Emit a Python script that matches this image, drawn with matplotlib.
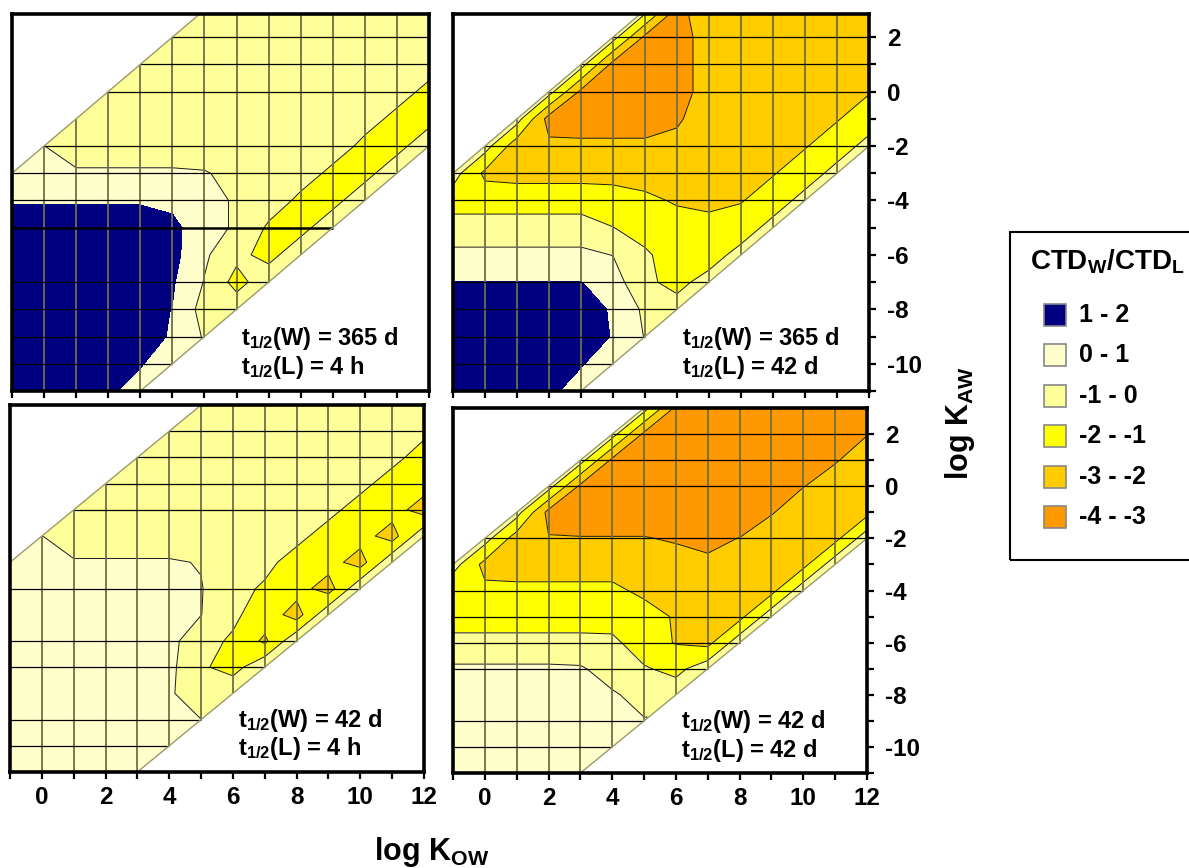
import numpy as np
import matplotlib
matplotlib.use('Agg')
import matplotlib.pyplot as plt
from matplotlib.patches import Polygon, Rectangle

plt.rcParams['font.family'] = ['Liberation Sans', 'DejaVu Sans']
plt.rcParams['font.weight'] = 'bold'
plt.rcParams['mathtext.fontset'] = 'custom'
plt.rcParams['mathtext.rm'] = 'Liberation Sans:bold'
plt.rcParams['mathtext.it'] = 'Liberation Sans:bold'
plt.rcParams['mathtext.bf'] = 'Liberation Sans:bold'
plt.rcParams['axes.unicode_minus'] = False

# grid of the contour data: columns log Kow -1..12, rows log Kaw 3..-11
log_kow = np.arange(-1, 13)
log_kaw = np.arange(3, -12, -1)
# chemical space band: koa_min <= log Kow - log Kaw <= koa_max
koa_min, koa_max = 2, 14

levels = [-4, -3, -2, -1, 0, 1, 2]
level_colors = ['#FF9900', '#FFCC00', '#FFFF00', '#FFFF99', '#FFFFCC', '#000080']
legend_title = 'CTD$_W$/CTD$_L$'
legend_labels = ['1 - 2', '0 - 1', '-1 - 0', '-2 - -1', '-3 - -2', '-4 - -3']

# t1/2(W) = 365 d, t1/2(L) = 4 h
z_365d_4h = [
    [-0.5] * 14,
    [-0.5] * 14,
    [-0.5] * 13 + [-0.7],
    [-0.5] * 12 + [-0.7, -1.2],
    [-0.5] * 11 + [-0.7, -1.2, -1.3],
    [-0.3, 0.02, -0.8, -0.8, -0.8, -0.8, -0.8, -0.5, -0.5, -0.5, -0.6, -1.2, -1.3, -0.4],
    [0.15, 0.2, 0.2, 0.2, 0.2, 0.2, 0.1, -0.4, -0.5, -0.6, -1.2, -1.3, -0.4, -0.4],
    [0.9] * 5 + [0.7, 0.3, -0.1, -0.5, -1.2, -1.3, -0.4, -0.4, -0.4],
    [1.5] * 5 + [1.3, 0.3, -0.1, -1.15, -1.3, -0.4, -0.4, -0.4, -0.4],
    [1.5] * 5 + [1.3, 0.15, -0.75, -1.3, -0.4, -0.4, -0.4, -0.4, -0.4],
    [1.5] * 5 + [1.1, -0.05, -1.35, -0.4, -0.4, -0.4, -0.4, -0.4, -0.4],
    [1.5] * 4 + [1.3, 0.98, -0.4, -0.4, -0.4, -0.4, -0.4, -0.4, -0.4, -0.4],
    [1.5] * 4 + [1.4, 0.9, -0.1] + [-0.1] * 7,
    [1.5] * 4 + [1.1, 0.2] + [0.2] * 8,
    [1.5] * 3 + [1.2, 0.5] + [0.5] * 9,
]

# t1/2(W) = 365 d, t1/2(L) = 42 d
z_365d_42d = [
    [-0.6] * 7 + [-3.2] + [-2.6] * 6,
    [-0.6] * 6 + [-3.2, -3.4] + [-2.6] * 6,
    [-0.6] * 5 + [-3.3, -3.5, -3.4] + [-2.6] * 6,
    [-0.6] * 4 + [-3.2, -3.5, -3.5, -3.4] + [-2.6] * 5 + [-2.05],
    [-0.6] * 3 + [-3.4, -3.5, -3.5, -3.5, -3.1, -2.6, -2.5, -2.5, -2.5, -2.05, -1.6],
    [-0.6, -0.6, -2.6, -2.8, -2.8, -2.8, -2.8, -2.8, -2.6, -2.5, -2.4, -2.05, -1.6, -0.6],
    [-0.6, -2.2, -2.3, -2.3, -2.3, -2.3, -2.4, -2.6, -2.6, -2.5, -2.05, -1.6, -0.6, -0.6],
    [-1.5] * 5 + [-1.6, -1.8, -2.1, -2.3, -2.05, -1.6, -0.6, -0.6, -0.6],
    [-0.5] * 5 + [-0.98, -1.4, -1.6, -1.6, -1.6, -0.6, -0.6, -0.6, -0.6],
    [0.2] * 5 + [-0.02, -0.85, -1.5, -1.5, -0.6, -0.6, -0.6, -0.6, -0.6],
    [1.03] * 4 + [1.02, 0.45, -0.8, -1.3, -0.6, -0.6, -0.6, -0.6, -0.6, -0.6],
    [1.5] * 4 + [1.4, 0.9, -0.2, -0.6, -0.6, -0.6, -0.6, -0.6, -0.6, -0.6],
    [1.5] * 4 + [1.45, 0.95, -0.05] + [-0.05] * 7,
    [1.5] * 4 + [1.05, 0.6] + [0.6] * 8,
    [1.5] * 3 + [1.15, 0.7] + [0.7] * 9,
]

# t1/2(W) = 42 d, t1/2(L) = 4 h
z_42d_4h = [
    [-0.5] * 13 + [-0.6],
    [-0.5] * 13 + [-0.85],
    [-0.5] * 12 + [-0.8, -1.3],
    [-0.5] * 11 + [-0.8, -1.3, -1.6],
    [-0.5] * 10 + [-0.8, -1.3, -1.6, -2.45],
    [0.02, 0.02] + [-0.6] * 7 + [-0.8, -1.3, -1.6, -2.45, -0.2],
    [0.2, 0.1, 0.1, 0.1, 0.1, 0.1, -0.05, -0.5, -0.8, -1.3, -1.6, -2.45, -0.2, -0.2],
    [0.3] * 6 + [0.05, -0.75, -1.1, -1.6, -2.45, -0.2, -0.2, -0.2],
    [0.3] * 6 + [0.02, -0.85, -1.4, -2.45, -0.2, -0.2, -0.2, -0.2],
    [0.3] * 5 + [0.35, -0.75, -1.1, -2.2, -0.2, -0.2, -0.2, -0.2, -0.2],
    [0.3] * 5 + [0.25, -0.85, -1.4, -0.2, -0.2, -0.2, -0.2, -0.2, -0.2],
    [0.3] * 5 + [0.15, -0.7] + [-0.2] * 7,
    [0.3] * 6 + [0.01] * 8,
    [0.3] * 14,
    [0.3] * 14,
]

# t1/2(W) = 42 d, t1/2(L) = 42 d
z_42d_42d = [
    [-0.6] * 7 + [-3.2] + [-3.6] * 6,
    [-0.6] * 6 + [-3.2] + [-3.6] * 6 + [-3.02],
    [-0.6] * 5 + [-3.2] + [-3.6] * 6 + [-3.05, -2.7],
    [-0.6] * 4 + [-3.2] + [-3.6] * 6 + [-3.02, -2.7, -2.6],
    [-0.6] * 3 + [-3.3] + [-3.6] * 6 + [-3.05, -2.6, -2.5, -2.3],
    [-0.6, -0.6, -2.5, -2.95, -2.95, -2.95, -2.95, -3.1, -3.2, -2.98, -2.6, -2.5, -2.3, -0.4],
    [-0.6, -2.3, -2.4, -2.4, -2.4, -2.4, -2.5, -2.6, -2.85, -2.7, -2.5, -2.3, -0.4, -0.4],
    [-1.8] * 6 + [-2.2, -2.4, -2.6, -2.5, -2.3, -0.4, -0.4, -0.4],
    [-1.5] * 6 + [-1.6, -2.1, -2.4, -2.3, -0.4, -0.4, -0.4, -0.4],
    [-0.7] * 5 + [-0.75, -1.6, -2.05, -2.3, -0.4, -0.4, -0.4, -0.4, -0.4],
    [0.15] * 4 + [0.1, -0.4, -0.9, -1.3, -0.4, -0.4, -0.4, -0.4, -0.4, -0.4],
    [0.4] * 5 + [0.1, -0.3] + [-0.4] * 7,
    [0.5] * 5 + [0.35, 0.05] + [0.05] * 7,
    [0.5] * 5 + [0.4] * 9,
    [0.5] * 14,
]

panel_data = [z_365d_4h, z_365d_42d, z_42d_4h, z_42d_42d]
half_life_w = ['365 d', '365 d', '42 d', '42 d']
half_life_l = ['4 h', '42 d', '4 h', '42 d']
grid_kaw = [
    [2, 1, 0, -2, -3, -4, -5, -7, -8, -9, -10],
    [2, 1, 0, -2, -3, -4, -7, -8, -9, -10],
    [2, 1, 0, -1, -4, -6, -7, -9, -10],
    [2, 1, 0, -2, -4, -5, -6, -7, -9, -10],
]
grid_kaw_heavy = [[-5], [], [], []]

W, H = 1189, 868
fig = plt.figure(figsize=(W / 100, H / 100), dpi=100)

# panel boxes in pixels: left, top, right, bottom
boxes = [(12, 14, 429, 391), (453, 14, 869, 391),
         (10, 405, 424, 772), (453, 408, 867, 773)]
xlims = [(-0.87, 12), (-0.87, 12), (-1, 12), (-1, 12)]
ylims = [(-11, 2.85), (-11, 2.85), (-11, 3), (-11, 3)]

for i, z in enumerate(panel_data):
    l, t, r, b = boxes[i]
    ax = fig.add_axes([l / W, 1 - b / H, (r - l) / W, (b - t) / H])
    z = np.array(z)
    x0, x1 = xlims[i][0] - 1, xlims[i][1] + 1
    band = Polygon([(x0, x0 - koa_max), (x1, x1 - koa_max),
                    (x1, x1 - koa_min), (x0, x0 - koa_min)],
                   closed=True, transform=ax.transData,
                   facecolor='none', edgecolor='none')
    ax.add_patch(band)
    cf = ax.contourf(log_kow, log_kaw, z, levels=levels, colors=level_colors,
                     zorder=1)
    cf.set_clip_path(band)
    cl = ax.contour(log_kow, log_kaw, z, levels=levels[1:5], colors='#1a1a1a',
                    linewidths=0.7, negative_linestyles='solid', zorder=2)
    cl.set_clip_path(band)

    # mesh lines inside the band
    for k in range(0, 12):
        ax.plot([k, k], [k - koa_max, k - koa_min], color='#707048',
                lw=1.3, zorder=3, solid_capstyle='butt')
    for v in grid_kaw[i]:
        lw = 1.8 if v in grid_kaw_heavy[i] else 0.9
        ax.plot([v + koa_min, v + koa_max], [v, v], color='black', lw=lw,
                zorder=3, solid_capstyle='butt')
    for off in (koa_min, koa_max):
        ax.plot([x0, x1], [x0 - off, x1 - off], color='#9a9a6a', lw=1.0,
                zorder=4)

    ax.set_xlim(*xlims[i])
    ax.set_ylim(*ylims[i])
    for sp in ax.spines.values():
        sp.set_linewidth(2.6)
        sp.set_zorder(5)

    ax.set_xticks(range(0, 13, 2))
    ax.set_xticks(range(-1, 13), minor=True)
    ax.tick_params(axis='both', which='both', direction='out', length=5,
                   width=1.6, labelsize=17.5, pad=5)
    ax.tick_params(axis='y', which='both', pad=8)
    if i < 2:
        ax.tick_params(axis='x', which='both', labelbottom=False)
    if i % 2 == 1:
        ax.yaxis.tick_right()
        ax.set_yticks(range(-10, 3, 2))
        ax.set_yticks(range(-11, 3), minor=True)
    else:
        ax.set_yticks([])
        ax.set_yticks([], minor=True)

    ax.text(0.55, 0.122, 't$_{1/2}$(W) = ' + half_life_w[i],
            transform=ax.transAxes, fontsize=17, va='baseline', zorder=6)
    ax.text(0.55, 0.045, 't$_{1/2}$(L) = ' + half_life_l[i],
            transform=ax.transAxes, fontsize=17, va='baseline', zorder=6)

fig.text(432 / W, 1 - 860 / H, 'log K$_{OW}$', ha='center', va='baseline',
         fontsize=22)
fig.text(960 / W, 1 - 423 / H, 'log K$_{AW}$', ha='center', va='center',
         rotation=90, fontsize=22)

# legend box
fig.add_artist(Rectangle((1010 / W, 1 - 560 / H), 200 / W, 328 / H,
                         transform=fig.transFigure, fill=False,
                         edgecolor='black', lw=1.5))
fig.text(1030 / W, 1 - 270 / H, legend_title, ha='left', va='baseline',
         fontsize=20)
for j, lab in enumerate(legend_labels):
    yc = 315 + j * 40.4
    fig.add_artist(Rectangle((1044 / W, 1 - (yc + 11) / H), 22 / W, 22 / H,
                             transform=fig.transFigure,
                             facecolor=level_colors[::-1][j],
                             edgecolor='#888888', lw=1.2))
    fig.text(1079 / W, 1 - yc / H, lab, ha='left', va='center', fontsize=18)

fig.savefig('out.png', dpi=100)
